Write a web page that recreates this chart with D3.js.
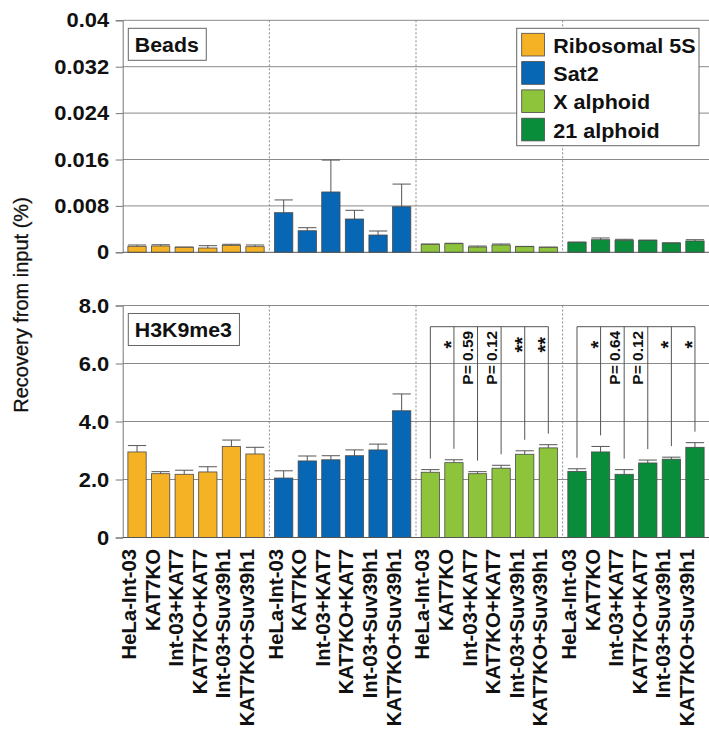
<!DOCTYPE html>
<html>
<head>
<meta charset="utf-8">
<script src="https://cdn.jsdelivr.net/npm/d3@7"></script>
<style>
  html, body { margin: 0; padding: 0; background: #fff; }
  svg { display: block; font-family: "Liberation Sans", Arial, Helvetica, sans-serif; }
</style>
</head>
<body>
<svg id="chart" width="709" height="731"></svg>
<script>
// Conditions (x categories within each locus group)
const conditions = ["HeLa-Int-03", "KAT7KO", "Int-03+KAT7", "KAT7KO+KAT7", "Int-03+Suv39h1", "KAT7KO+Suv39h1"];
// Loci (groups / legend entries)
const loci = ["Ribosomal 5S", "Sat2", "X alphoid", "21 alphoid"];
const lociColors = ["#F6B225", "#0767B4", "#8DC43C", "#0A8D3B"];

// Beads (background) recovery, % of input
const beadsRibo5S = [0.00103, 0.00109, 0.00086, 0.00074, 0.00120, 0.00097];
const beadsRibo5SErr = [0.00023, 0.00021, 0.00005, 0.00040, 0.00018, 0.00029];
const beadsSat2 = [0.00683, 0.00372, 0.01040, 0.00574, 0.00298, 0.00786];
const beadsSat2Err = [0.00220, 0.00052, 0.00550, 0.00150, 0.00069, 0.00390];
const beadsXAlphoid = [0.00138, 0.00148, 0.00091, 0.00126, 0.00097, 0.00086];
const beadsXAlphoidErr = [0.00005, 0.00008, 0.00017, 0.00017, 0.00005, 0.00004];
const beads21Alphoid = [0.00172, 0.00217, 0.00207, 0.00207, 0.00160, 0.00195];
const beads21AlphoidErr = [0.00005, 0.00030, 0.00017, 0.00003, 0.00003, 0.00022];

// H3K9me3 ChIP recovery, % of input
const h3Ribo5S = [2.95, 2.20, 2.18, 2.26, 3.14, 2.88];
const h3Ribo5SErr = [0.22, 0.07, 0.14, 0.18, 0.22, 0.23];
const h3Sat2 = [2.05, 2.64, 2.68, 2.82, 3.02, 4.37];
const h3Sat2Err = [0.25, 0.17, 0.14, 0.20, 0.20, 0.58];
const h3XAlphoid = [2.25, 2.58, 2.20, 2.39, 2.87, 3.09];
const h3XAlphoidErr = [0.09, 0.10, 0.07, 0.10, 0.12, 0.11];
const h321Alphoid = [2.28, 2.95, 2.18, 2.57, 2.70, 3.11];
const h321AlphoidErr = [0.09, 0.19, 0.16, 0.10, 0.07, 0.16];

// Axis ticks
const beadsTicks = [0, 0.008, 0.016, 0.024, 0.032, 0.04];
const beadsTickLabels = ["0", "0.008", "0.016", "0.024", "0.032", "0.04"];
const h3Ticks = [0, 2, 4, 6, 8];
const h3TickLabels = ["0", "2.0", "4.0", "6.0", "8.0"];

// Significance vs HeLa-Int-03 (conditions 2..6)
const sigXAlphoid = ["*", "P= 0.59", "P= 0.12", "**", "**"];
const sig21Alphoid = ["*", "P= 0.64", "P= 0.12", "*", "*"];

const svg = d3.select("#chart");
const left = 122.7, right = 709.3;
// horizontal labels are set slightly wide
const widen = 1.07;

const xGroup = d3.scaleBand().domain(loci).range([left, right]).padding(0);
const xInner = d3.scaleBand().domain(conditions).range([0, xGroup.bandwidth()])
  .paddingInner(0.225).paddingOuter(0.22);
const barX = (g, c) => xGroup(g) + xInner(c);
const barCx = (g, c) => barX(g, c) + xInner.bandwidth() / 2;

function drawPanel(cfg) {
  const y = d3.scaleLinear().domain(cfg.domain).range([cfg.bottom, cfg.top]);
  const g = svg.append("g");

  // horizontal gridlines
  g.selectAll("line.grid").data(cfg.ticks.slice(1)).join("line")
    .attr("x1", left).attr("x2", right)
    .attr("y1", d => y(d)).attr("y2", d => y(d))
    .attr("stroke", "#8a8a8a").attr("stroke-width", 1);

  // dotted group separators
  g.selectAll("line.sep").data(loci.slice(1)).join("line")
    .attr("x1", d => xGroup(d)).attr("x2", d => xGroup(d))
    .attr("y1", cfg.top).attr("y2", cfg.bottom)
    .attr("stroke", "#8a8a8a").attr("stroke-width", 1).attr("stroke-dasharray", "2,2");

  // y axis
  const axis = d3.axisLeft(y).tickValues(cfg.ticks)
    .tickFormat((d, i) => cfg.tickLabels[i]).tickSize(7).tickPadding(6);
  const ag = g.append("g").attr("transform", `translate(${left},0)`).call(axis);
  ag.select(".domain").attr("stroke", "#777");
  ag.selectAll(".tick line").attr("stroke", "#777");
  ag.selectAll(".tick text").attr("font-size", 20.5).attr("font-weight", "bold")
    .attr("fill", "#111").attr("font-family", "Liberation Sans, Arial, sans-serif")
    .attr("x", 0).attr("transform", `translate(-13.5,0) scale(${widen},1)`);

  // bars and error bars
  const rows = [];
  loci.forEach((loc, li) => {
    conditions.forEach((c, ci) => {
      rows.push({ loc, li, c, v: cfg.means[li][ci], e: cfg.errs[li][ci] });
    });
  });
  const bw = xInner.bandwidth();
  g.selectAll("line.err").data(rows).join("line")
    .attr("x1", d => barCx(d.loc, d.c)).attr("x2", d => barCx(d.loc, d.c))
    .attr("y1", d => y(d.v)).attr("y2", d => y(d.v + d.e))
    .attr("stroke", "#555").attr("stroke-width", 1);
  g.selectAll("line.cap").data(rows).join("line")
    .attr("x1", d => barX(d.loc, d.c)).attr("x2", d => barX(d.loc, d.c) + bw)
    .attr("y1", d => y(d.v + d.e)).attr("y2", d => y(d.v + d.e))
    .attr("stroke", "#555").attr("stroke-width", 1);
  g.selectAll("rect.bar").data(rows).join("rect")
    .attr("x", d => barX(d.loc, d.c)).attr("width", bw)
    .attr("y", d => y(d.v)).attr("height", d => y(0) - y(d.v))
    .attr("fill", d => lociColors[d.li])
    .attr("stroke", "#4a4a4a").attr("stroke-width", 0.8);

  // baseline
  g.append("line").attr("x1", left).attr("x2", right)
    .attr("y1", y(0)).attr("y2", y(0)).attr("stroke", "#555").attr("stroke-width", 1);

  // panel label box
  const lb = g.append("g").attr("transform", `translate(128.3,${cfg.top + 8})`);
  const lt = lb.append("text").attr("transform", `translate(6.5,23.5) scale(1.04,1)`)
    .attr("font-size", 20.5).attr("font-weight", "bold").attr("fill", "#111").text(cfg.label);
  const w = lt.node().getComputedTextLength() * 1.04;
  lb.insert("rect", "text").attr("x", 0).attr("y", 0).attr("width", w + 14).attr("height", 32)
    .attr("fill", "#fff").attr("stroke", "#666").attr("stroke-width", 1);

  return y;
}

const yTop = drawPanel({
  domain: [0, 0.04], top: 20.3, bottom: 252.3, ticks: beadsTicks, tickLabels: beadsTickLabels,
  means: [beadsRibo5S, beadsSat2, beadsXAlphoid, beads21Alphoid],
  errs: [beadsRibo5SErr, beadsSat2Err, beadsXAlphoidErr, beads21AlphoidErr],
  label: "Beads"
});

const yBot = drawPanel({
  domain: [0, 8], top: 305.5, bottom: 537.5, ticks: h3Ticks, tickLabels: h3TickLabels,
  means: [h3Ribo5S, h3Sat2, h3XAlphoid, h321Alphoid],
  errs: [h3Ribo5SErr, h3Sat2Err, h3XAlphoidErr, h321AlphoidErr],
  label: "H3K9me3"
});

// significance brackets in the H3K9me3 panel
function drawBracket(loc, means, errs, labels) {
  const g = svg.append("g");
  const by = yBot(8) + 21.2;
  const x0 = barCx(loc, conditions[0]);
  const x1 = barCx(loc, conditions[conditions.length - 1]);
  g.append("line").attr("x1", x0).attr("x2", x1).attr("y1", by).attr("y2", by)
    .attr("stroke", "#555").attr("stroke-width", 1);
  conditions.forEach((c, i) => {
    const cx = barCx(loc, c);
    g.append("line").attr("x1", cx).attr("x2", cx)
      .attr("y1", by).attr("y2", yBot(means[i] + errs[i]) - 11)
      .attr("stroke", "#555").attr("stroke-width", 1);
    if (i > 0) {
      const lab = labels[i - 1];
      const isStar = lab.startsWith("*");
      const tx = isStar ? cx + 4 : cx - 4.5;
      const ty = isStar ? by + 18 : by + 31;
      g.append("text").attr("transform", `translate(${tx},${ty}) rotate(-90)`)
        .attr("text-anchor", "middle").attr("font-size", isStar ? 20 : 15.5)
        .attr("font-weight", "bold").attr("fill", "#111").text(lab);
    }
  });
}
drawBracket("X alphoid", h3XAlphoid, h3XAlphoidErr, sigXAlphoid);
drawBracket("21 alphoid", h321Alphoid, h321AlphoidErr, sig21Alphoid);

// x-axis category labels
const xl = svg.append("g");
loci.forEach(loc => {
  conditions.forEach(c => {
    xl.append("text")
      .attr("transform", `translate(${barCx(loc, c) - 1},549) rotate(-90)`)
      .attr("text-anchor", "end").attr("font-size", 20.3).attr("font-weight", "bold")
      .attr("fill", "#111").text(c);
  });
});

// y-axis title
svg.append("text").attr("transform", "translate(27.5,305) rotate(-90)")
  .attr("text-anchor", "middle").attr("font-size", 20).attr("fill", "#111")
  .attr("stroke", "#111").attr("stroke-width", 0.3)
  .text("Recovery from input (%)");

// legend
const lg = svg.append("g").attr("transform", "translate(516.7,28.3)");
lg.append("rect").attr("width", 182.3).attr("height", 117.4)
  .attr("fill", "#fff").attr("stroke", "#666").attr("stroke-width", 1);
loci.forEach((loc, i) => {
  const row = lg.append("g").attr("transform", `translate(5,${5 + i * 28.3})`);
  row.append("rect").attr("width", 22.7).attr("height", 22.7)
    .attr("fill", lociColors[i]).attr("stroke", "#4a4a4a").attr("stroke-width", 0.8);
  row.append("text").attr("transform", "translate(31.6,19.5) scale(1.05,1)")
    .attr("font-size", 20.5).attr("font-weight", "bold").attr("fill", "#111").text(loc);
});
</script>
</body>
</html>
